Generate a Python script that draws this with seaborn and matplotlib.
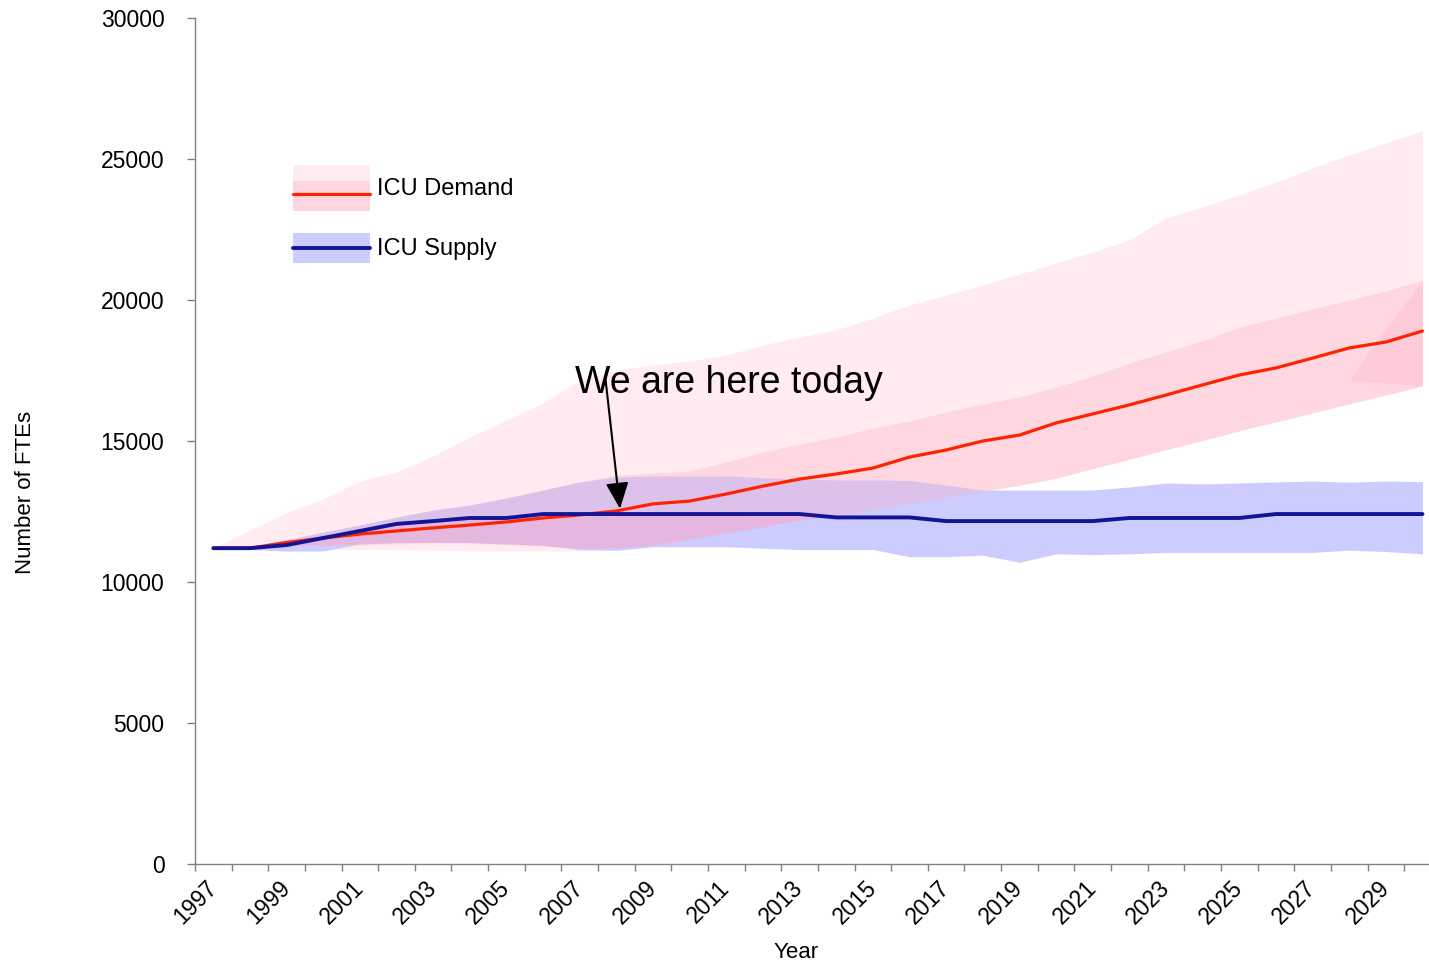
import numpy as np
import pandas as pd
import matplotlib
matplotlib.use("Agg")
import matplotlib.pyplot as plt
import seaborn as sns
from matplotlib.legend_handler import HandlerBase
from matplotlib.patches import Rectangle
from matplotlib.lines import Line2D

# Data
years = list(range(1997, 2031))
demand = [11200, 11200, 11400, 11560, 11700, 11810, 11920, 12020, 12130, 12270,
          12380, 12520, 12770, 12870, 13120, 13400, 13650, 13830, 14040, 14430,
          14680, 15000, 15210, 15640, 15960, 16280, 16630, 16990, 17340, 17590,
          17940, 18300, 18510, 18900]
supply = [11200, 11200, 11310, 11560, 11810, 12060, 12160, 12270, 12270, 12410,
          12410, 12410, 12410, 12410, 12410, 12410, 12410, 12290, 12290, 12290,
          12160, 12160, 12160, 12160, 12160, 12270, 12270, 12270, 12270, 12410,
          12410, 12410, 12410, 12410]
demand_outer_hi = [11200, 11840, 12450, 12940, 13580, 13900, 14470, 15140, 15740, 16350,
                   17160, 17520, 17700, 17840, 18050, 18400, 18690, 18940, 19360, 19820,
                   20180, 20530, 20920, 21310, 21700, 22130, 22910, 23300, 23720, 24180,
                   24680, 25140, 25570, 26000]
demand_outer_lo = [11200, 11150, 11100, 11150, 11150, 11150, 11130, 11100, 11100, 11100,
                   11100, 11150, 11310, 11520, 11740, 11950, 12200, 12340, 12560, 12780,
                   13000, 13210, 13430, 13680, 14020, 14350, 14690, 15020, 15360, 15680,
                   16000, 16320, 16630, 16950]
demand_inner_hi = [11200, 11250, 11500, 11770, 12020, 12300, 12550, 12730, 12980, 13260,
                   13550, 13790, 13860, 13940, 14260, 14610, 14890, 15140, 15460, 15710,
                   16030, 16310, 16560, 16910, 17300, 17770, 18160, 18550, 19040, 19360,
                   19680, 20000, 20320, 20710]
demand_inner_lo = [11200, 11200, 11300, 11300, 11320, 11350, 11400, 11380, 11330, 11270,
                   11200, 11200, 11310, 11520, 11740, 11950, 12200, 12340, 12560, 12780,
                   13000, 13210, 13430, 13680, 14020, 14350, 14690, 15020, 15360, 15680,
                   16000, 16320, 16630, 16950]
supply_hi = [11200, 11250, 11500, 11770, 12020, 12300, 12550, 12730, 12980, 13260,
             13550, 13720, 13760, 13760, 13760, 13700, 13650, 13620, 13620, 13600,
             13440, 13260, 13260, 13260, 13260, 13370, 13510, 13480, 13510, 13550,
             13580, 13540, 13580, 13560]
supply_lo = [11200, 11150, 11100, 11100, 11350, 11400, 11400, 11400, 11350, 11300,
             11150, 11120, 11250, 11250, 11250, 11200, 11150, 11150, 11150, 10900,
             10900, 10950, 10700, 11000, 10970, 11000, 11050, 11050, 11050, 11050,
             11050, 11130, 11080, 11000]
# small rendering artefact at the right end of the demand band
tri_years = [2028, 2029, 2030]
tri_lo = [17150, 17060, 16950]
tri_hi = [17150, 19000, 20700]

df = pd.DataFrame({"Year": years, "ICU Demand": demand, "ICU Supply": supply})

sns.set_theme(style="white")
plt.rcParams["font.family"] = ["Liberation Sans", "DejaVu Sans"]
plt.rcParams["text.color"] = "black"
plt.rcParams["axes.labelcolor"] = "black"
plt.rcParams["xtick.color"] = "black"
plt.rcParams["ytick.color"] = "black"

fig = plt.figure(figsize=(14.29, 9.67), dpi=100)
ax = fig.add_axes([195 / 1429, 103 / 967, 1245.8 / 1429, 846 / 967])

yr = np.array(years)
ax.fill_between(yr, demand_outer_lo, demand_outer_hi, color="#FFEBF0", lw=0, zorder=1)
ax.fill_between(yr, supply_lo, supply_hi, color="#CCCCFF", lw=0, zorder=2)
ax.fill_between(yr, demand_inner_lo, demand_inner_hi, color="#FFB0C4", alpha=0.33, lw=0, zorder=3)
# overlap of demand band with lower half of supply band looks pinker
ov_lo = np.maximum(demand_inner_lo, supply_lo)
ov_hi = np.minimum(demand_inner_hi, supply)
ax.fill_between(yr, ov_lo, ov_hi, where=ov_hi > ov_lo, interpolate=True,
                color="#FF9EC0", alpha=0.3, lw=0, zorder=4)
ax.fill_between(tri_years, tri_lo, tri_hi, color="#FFB0C4", alpha=0.3, lw=0, zorder=4)

sns.lineplot(data=df, x="Year", y="ICU Demand", color="#FF2200", linewidth=2.3, ax=ax, zorder=6)
sns.lineplot(data=df, x="Year", y="ICU Supply", color="#141496", linewidth=2.8, ax=ax, zorder=7)

ax.set_xlim(1996.5, 2030.5)
ax.set_ylim(0, 30000)
ax.set_yticks(range(0, 30001, 5000))
ax.set_yticklabels([str(v) for v in range(0, 30001, 5000)])
ax.set_xticks(years[::2])
ax.set_xticklabels([str(y) for y in years[::2]], rotation=45, ha="right", va="center",
                   rotation_mode="anchor")
ax.set_xticks(np.arange(1996.5, 2031, 1), minor=True)
ax.tick_params(axis="x", which="major", length=0, pad=15, labelsize=16.5)
ax.tick_params(axis="x", which="minor", length=5, color="#808080", width=1, direction="out", bottom=True)
ax.tick_params(axis="y", length=6, color="#808080", width=1, direction="out", left=True,
               pad=16, labelsize=16.5)

for s in ["top", "right"]:
    ax.spines[s].set_visible(False)
for s in ["left", "bottom"]:
    ax.spines[s].set_color("#808080")
    ax.spines[s].set_linewidth(1)

ax.set_xlabel("Year", fontsize=16, va="center")
ax.set_ylabel("Number of FTEs", fontsize=16, va="center")
ax.xaxis.set_label_coords((796 - 195) / 1245.8, (864 - 953) / 846)
ax.yaxis.set_label_coords((25 - 195) / 1245.8, (864 - 492) / 846)

# annotation
ax.text(2006.88, 16700, "We are here today", fontsize=27, ha="left", va="baseline", zorder=8)
ax.annotate("", xy=(2008.1, 12600), xytext=(2007.7, 17230),
            arrowprops=dict(arrowstyle="-|>,head_length=0.8,head_width=0.35", color="black",
                            lw=1.5, mutation_scale=20, shrinkA=0, shrinkB=0), zorder=8)


class BandHandler(HandlerBase):
    def __init__(self, bands, line_color, line_y, lw):
        super().__init__()
        self.bands = bands
        self.line_color = line_color
        self.line_y = line_y
        self.lw = lw

    def create_artists(self, legend, orig_handle, xdescent, ydescent, width, height, fontsize, trans):
        arts = []
        for y0, y1, c in self.bands:
            arts.append(Rectangle((-xdescent, -ydescent + y0 * height), width, (y1 - y0) * height,
                                  facecolor=c, edgecolor="none", transform=trans))
        yl = -ydescent + self.line_y * height
        arts.append(Line2D([-xdescent, -xdescent + width], [yl, yl], color=self.line_color,
                           lw=self.lw, transform=trans))
        return arts


h_dem = Line2D([], [])
h_sup = Line2D([], [])
ax.legend([h_dem, h_sup], ["ICU Demand", "ICU Supply"],
          handler_map={h_dem: BandHandler([(0, 1, "#FFEBF0"), (0, 0.65, "#FFD6E0")], "#FF2200", 0.37, 2.3),
                       h_sup: BandHandler([(0.17, 0.83, "#CCCCFF")], "#141496", 0.5, 2.8)},
          loc="upper left", bbox_to_anchor=(293 / 1429, 1 - 165 / 967), bbox_transform=fig.transFigure,
          frameon=False, fontsize=17, handlelength=3.26, handleheight=2.62, labelspacing=0.6,
          handletextpad=0.3, borderpad=0, borderaxespad=0)

fig.savefig("out.png", dpi=100)
